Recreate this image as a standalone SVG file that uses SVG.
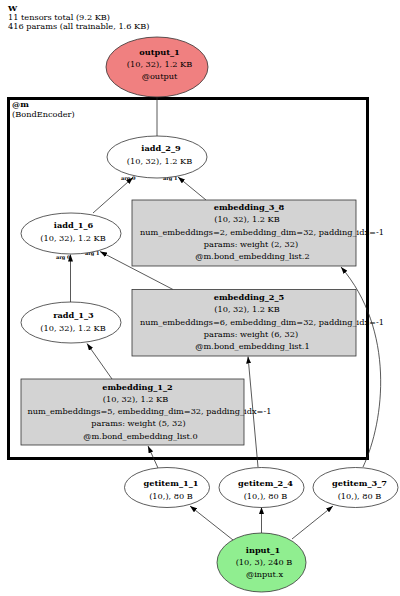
<svg xmlns="http://www.w3.org/2000/svg" width="400" height="596" viewBox="0 0 400 596">
<style>
text{font-family:"DejaVu Serif","Liberation Serif",serif;font-size:8.2px;fill:#000}
.b{font-weight:bold}
.c{text-anchor:middle}
.arg{font-size:5px;font-weight:bold}
.nd{stroke:#333;stroke-width:0.8}
.e{fill:none;stroke:#222;stroke-width:0.75}
</style>
<defs>
<marker id="ah" viewBox="0 0 7 5" refX="7" refY="2.5" markerWidth="7" markerHeight="5" orient="auto" markerUnits="userSpaceOnUse">
<path d="M0,0 L7,2.5 L0,5 z" fill="#000"/>
</marker>
</defs>
<rect width="400" height="596" fill="#fff"/>
<g id="title">
<text x="8" y="10.5" class="b">W</text>
<text x="8" y="19.5">11 tensors total (9.2 KB)</text>
<text x="8" y="28.5">416 params (all trainable, 1.6 KB)</text>
</g>
<g id="cluster_m">
<rect x="8.5" y="98.5" width="359" height="360" fill="none" stroke="#000" stroke-width="3"/>
<text x="12" y="107" class="b">@m</text>
<text x="12" y="117">(BondEncoder)</text>
</g>
<g id="edges">
<path class="e" d="M157,136 L157,97.5" stroke="#777"/>
<path class="e" d="M93,213 L133,177.5" marker-end="url(#ah)"/>
<path class="e" d="M206,200 L178,177" marker-end="url(#ah)"/>
<path class="e" d="M70.5,302 L70.5,254.5" marker-end="url(#ah)"/>
<path class="e" d="M173,289.5 L100,251.5" marker-end="url(#ah)"/>
<path class="e" d="M112,379 L87,343.5" marker-end="url(#ah)"/>
<path class="e" d="M158,468 L148,446" marker-end="url(#ah)"/>
<path class="e" d="M258,467 L248,356.5" marker-end="url(#ah)"/>
<path class="e" d="M363,467 C385,420 395,330 341,267" marker-end="url(#ah)"/>
<path class="e" d="M233,540 L190,506" marker-end="url(#ah)"/>
<path class="e" d="M261.5,533 L261.5,507" marker-end="url(#ah)"/>
<path class="e" d="M292,539 L333,506" marker-end="url(#ah)"/>
<text x="121" y="180" class="arg">arg 0</text>
<text x="163" y="180" class="arg">arg 1</text>
<text x="56" y="259" class="arg">arg 0</text>
<text x="85" y="255" class="arg">arg 1</text>
</g>
<g id="output_1">
<ellipse class="nd" cx="157" cy="67" rx="51" ry="30" fill="#f08080"/>
<text x="159.5" y="54.5" class="b c">output_1</text>
<text x="159.5" y="66.8" class="c">(10, 32), 1.2 KB</text>
<text x="159.5" y="79" class="c">@output</text>
</g>
<g id="iadd_2_9">
<ellipse class="nd" cx="157" cy="157" rx="50" ry="21" fill="#fff"/>
<text x="161" y="151" class="b c">iadd_2_9</text>
<text x="159.5" y="164" class="c">(10, 32), 1.2 KB</text>
</g>
<g id="iadd_1_6">
<ellipse class="nd" cx="71" cy="233.5" rx="50" ry="20.5" fill="#fff"/>
<text x="73.5" y="228" class="b c">iadd_1_6</text>
<text x="73" y="241" class="c">(10, 32), 1.2 KB</text>
</g>
<g id="radd_1_3">
<ellipse class="nd" cx="71" cy="322.5" rx="50" ry="20.5" fill="#fff"/>
<text x="73.5" y="318" class="b c">radd_1_3</text>
<text x="73" y="331" class="c">(10, 32), 1.2 KB</text>
</g>
<g id="embedding_3_8">
<rect class="nd" x="132" y="200" width="224" height="66" fill="#d3d3d3"/>
<text x="249" y="210" class="b c">embedding_3_8</text>
<text x="247" y="222.3" class="c">(10, 32), 1.2 KB</text>
<text x="262" y="234.5" class="c">num_embeddings=2, embedding_dim=32, padding_idx=-1</text>
<text x="251" y="246.7" class="c">params: weight (2, 32)</text>
<text x="252.5" y="259" class="c">@m.bond_embedding_list.2</text>
</g>
<g id="embedding_2_5">
<rect class="nd" x="132" y="289.5" width="224" height="66.5" fill="#d3d3d3"/>
<text x="249" y="300" class="b c">embedding_2_5</text>
<text x="247" y="312.3" class="c">(10, 32), 1.2 KB</text>
<text x="262" y="324.5" class="c">num_embeddings=6, embedding_dim=32, padding_idx=-1</text>
<text x="251" y="336.7" class="c">params: weight (6, 32)</text>
<text x="252.5" y="349" class="c">@m.bond_embedding_list.1</text>
</g>
<g id="embedding_1_2">
<rect class="nd" x="21" y="379" width="223" height="66" fill="#d3d3d3"/>
<text x="137.5" y="389.5" class="b c">embedding_1_2</text>
<text x="135.5" y="401.8" class="c">(10, 32), 1.2 KB</text>
<text x="149.5" y="414" class="c">num_embeddings=5, embedding_dim=32, padding_idx=-1</text>
<text x="138.5" y="426.2" class="c">params: weight (5, 32)</text>
<text x="140.5" y="438.5" class="c">@m.bond_embedding_list.0</text>
</g>
<g id="getitem_1_1">
<ellipse class="nd" cx="167" cy="487.5" rx="42.5" ry="20" fill="#fff"/>
<text x="171" y="486" class="b c">getitem_1_1</text>
<text x="171" y="498.5" class="c">(10,), 80 B</text>
</g>
<g id="getitem_2_4">
<ellipse class="nd" cx="261.5" cy="487.5" rx="42.5" ry="20" fill="#fff"/>
<text x="265.5" y="486" class="b c">getitem_2_4</text>
<text x="265.5" y="498.5" class="c">(10,), 80 B</text>
</g>
<g id="getitem_3_7">
<ellipse class="nd" cx="355.5" cy="487.5" rx="42.5" ry="20" fill="#fff"/>
<text x="359.5" y="486" class="b c">getitem_3_7</text>
<text x="359.5" y="498.5" class="c">(10,), 80 B</text>
</g>
<g id="input_1">
<ellipse class="nd" cx="261.5" cy="562.5" rx="44.5" ry="29.5" fill="#90ee90"/>
<text x="263" y="553" class="b c">input_1</text>
<text x="264" y="565" class="c">(10, 3), 240 B</text>
<text x="264.5" y="577" class="c">@input.x</text>
</g>
</svg>
